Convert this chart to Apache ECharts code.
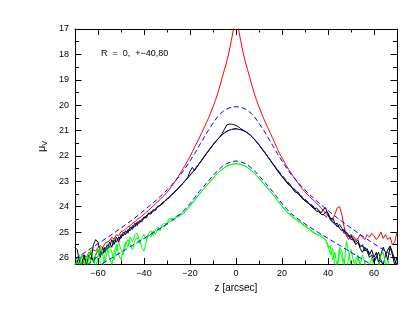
<!DOCTYPE html>
<html>
<head>
<meta charset="utf-8">
<script src="https://cdn.jsdelivr.net/npm/echarts@6/dist/echarts.min.js"></script>
<style>
html,body{margin:0;padding:0;background:#fff;}
#c{width:409px;height:316px;}
</style>
</head>
<body>
<div id="c"></div>
<script>
// sampling positions (arcsec)
const zData = [-70,-69,-68,-67,-66,-65,-64,-63,-62,-61,-60,-59,-58,-57,-56,-55,-54,-53,-52,-51,
-50,-49,-48,-47,-46,-45,-44,-43,-42,-41,-40,-39,-38,-37,-36,-35,-34,-33,-32,-31,
-30,-29,-28,-27,-26,-25,-24,-23,-22,-21,-20,-19,-18,-17,-16,-15,-14,-13,-12,-11,
-10,-9,-8,-7,-6,-5,-4,-3,-2,-1,0,1,2,3,4,5,6,7,8,9,10,11,12,13,14,15,16,17,18,19,20,
21,22,23,24,25,26,27,28,29,30,31,32,33,34,35,36,37,38,39,40,41,42,43,44,45,46,47,48,49,50,
51,52,53,54,55,56,57,58,59,60,61,62,63,64,65,66,67,68,69,70];
const zModel = [-70,-68,-66,-64,-62,-60,-58,-56,-54,-52,-50,-48,-46,-44,-42,-40,-38,-36,-34,-32,
-30,-28,-26,-24,-22,-20,-18,-16,-14,-12,-10,-8,-6,-4,-2,0,2,4,6,8,10,12,14,16,18,20,22,24,26,28,30,
32,34,36,38,40,42,44,46,48,50,52,54,56,58,60,62,64,66,68,70];

// observed profiles (mag/arcsec^2)
const redProfile = [26.1,26.0,26.15,25.95,25.9,26.0,25.8,25.85,25.7,25.75,
25.6,25.55,25.62,25.45,25.4,25.35,25.2,25.28,25.1,25.15,
24.98,24.95,24.88,24.8,24.75,24.65,24.6,24.5,24.45,24.38,
24.3,24.22,24.15,24.05,23.98,23.88,23.8,23.72,23.62,23.54,
23.44,23.32,23.2,23.07,22.94,22.8,22.65,22.5,22.35,22.18,
22.02,21.84,21.66,21.48,21.3,21.11,20.92,20.72,20.52,20.3,
20.07,19.82,19.55,19.25,18.9,18.6,18.27,17.9,17.45,16.95,
16.4,
16.95,17.45,17.9,18.27,18.6,18.92,19.25,19.55,19.82,20.07,
20.3,20.52,20.72,20.92,21.12,21.32,21.52,21.72,21.92,22.08,
22.24,22.4,22.55,22.68,22.82,22.95,23.08,23.2,23.32,23.42,
23.52,23.6,23.7,23.78,23.86,23.95,24.05,24.15,24.25,24.38,
24.45,24.5,24.3,24.05,24.0,24.3,24.8,25.15,25.3,25.2,
25.15,25.3,25.25,25.1,25.2,25.3,25.1,25.2,25.05,25.15,
25.3,25.2,25.0,25.25,25.1,25.3,25.2,25.5,25.4,25.0];

const black1 = [25.6,25.7,26.2,26.4,26.0,26.3,25.9,26.1,25.5,25.3,
25.4,25.8,25.9,25.6,25.7,25.4,25.6,25.3,25.4,25.2,
25.25,25.0,25.1,24.9,24.95,24.75,24.8,24.6,24.65,24.5,
24.48,24.35,24.3,24.2,24.2,24.08,24.02,23.93,23.9,23.78,
23.72,23.62,23.55,23.44,23.38,23.26,23.18,23.06,22.98,22.86,
22.62,22.45,22.58,22.44,22.31,22.19,22.06,21.93,21.81,21.69,
21.57,21.46,21.35,21.26,21.12,20.95,20.78,20.75,20.75,20.77,
20.8,
20.85,20.92,20.98,21.03,21.09,21.16,21.25,21.34,21.45,21.56,
21.68,21.8,21.93,22.06,22.19,22.32,22.45,22.58,22.7,22.82,
22.92,23.05,23.15,23.2,23.35,23.45,23.42,23.6,23.65,23.78,
23.8,23.92,23.95,24.1,24.05,24.15,24.25,24.1,24.05,24.3,
24.5,24.45,24.65,24.8,24.7,24.85,25.05,25.0,25.15,25.3,
25.25,25.5,25.4,25.65,25.8,25.6,25.75,26.0,25.9,26.2,
26.0,25.8,26.1,26.3,25.9,25.7,25.55,25.8,26.1,26.3];

const black2 = [26.4,26.1,26.5,26.2,25.9,26.3,26.0,25.8,26.2,25.9,
25.7,26.0,25.6,25.8,25.5,25.6,25.3,25.5,25.2,25.4,
25.1,25.15,24.95,25.05,24.8,24.9,24.65,24.75,24.55,24.6,
24.4,24.45,24.25,24.3,24.12,24.15,23.98,23.97,23.84,23.8,
23.68,23.64,23.52,23.46,23.35,23.27,23.15,23.08,22.96,22.88,
22.76,22.66,22.54,22.43,22.3,22.18,22.05,21.92,21.8,21.68,
21.56,21.45,21.34,21.25,21.16,21.09,21.03,20.99,20.96,20.94,
20.93,
20.95,20.97,21.0,21.04,21.1,21.17,21.26,21.35,21.46,21.57,
21.69,21.81,21.93,22.06,22.18,22.31,22.43,22.56,22.68,22.8,
22.93,23.0,23.12,23.22,23.3,23.41,23.5,23.58,23.7,23.75,
23.85,23.9,24.02,24.05,24.18,24.2,24.3,24.32,24.2,24.25,
24.45,24.6,24.7,24.65,24.85,24.95,24.9,25.1,25.2,25.1,
25.35,25.4,25.3,25.6,25.5,25.75,25.65,25.9,25.7,26.0,
25.8,26.2,25.9,25.6,25.8,26.1,25.6,25.9,26.3,26.0];

const green1 = [26.5,26.0,25.9,26.4,26.6,26.1,25.8,26.3,26.5,25.9,
25.7,26.2,26.4,25.9,25.6,26.0,26.3,25.8,25.5,25.9,
26.1,25.7,25.4,25.6,25.2,25.4,25.1,25.05,25.3,25.6,
25.75,25.4,25.1,25.2,24.95,25.1,24.85,24.9,24.75,24.8,
24.6,24.48,24.5,24.55,24.42,24.4,24.35,24.28,24.2,24.1,
23.99,23.88,23.76,23.64,23.52,23.41,23.31,23.2,23.1,22.99,
22.89,22.79,22.69,22.61,22.53,22.47,22.41,22.37,22.34,22.32,
22.31,
22.32,22.34,22.37,22.41,22.47,22.53,22.61,22.69,22.79,22.89,
22.99,23.1,23.2,23.31,23.41,23.52,23.64,23.76,23.88,23.99,
24.1,24.2,24.3,24.38,24.46,24.5,24.6,24.62,24.72,24.78,
24.85,24.9,25.0,25.05,25.1,25.1,25.2,25.22,25.3,25.5,
25.9,25.65,26.3,26.5,25.7,26.0,26.4,25.35,25.8,26.3,
26.5,26.1,25.9,26.4,26.6,26.2,26.5,26.8,26.3,26.6,
26.9,26.4,25.9,25.8,26.3,26.6,26.4,26.8,26.5,26.9];

const green2 = [26.2,26.6,26.3,25.9,26.2,26.5,26.0,25.7,26.1,26.4,
26.0,25.6,25.9,26.2,25.8,25.5,25.8,26.1,25.7,25.4,
25.7,25.9,25.5,25.3,25.5,25.7,25.35,25.2,25.45,25.25,
25.1,25.3,25.05,24.95,25.15,24.9,24.8,24.95,24.7,24.65,
24.72,24.55,24.45,24.5,24.38,24.32,24.3,24.22,24.14,24.05,
23.95,23.85,23.74,23.62,23.51,23.4,23.3,23.19,23.09,22.98,
22.88,22.78,22.68,22.6,22.52,22.46,22.4,22.36,22.33,22.31,
22.3,
22.31,22.33,22.36,22.4,22.46,22.52,22.6,22.68,22.78,22.88,
22.98,23.09,23.19,23.3,23.4,23.51,23.63,23.75,23.86,23.97,
24.08,24.17,24.27,24.33,24.42,24.47,24.55,24.6,24.68,24.75,
24.8,24.88,24.95,25.02,25.08,25.15,25.1,25.25,25.3,25.6,
25.55,26.1,25.8,26.4,25.6,25.75,26.2,26.5,26.0,25.7,
26.1,26.4,26.0,26.3,25.9,26.2,26.6,26.3,26.0,26.4,
26.7,26.2,26.5,26.8,26.4,26.1,26.5,26.8,26.4,26.7];

// model profiles (dashed)
const modelUpper = [26.06,25.94,25.82,25.7,25.58,25.46,25.34,25.22,25.1,24.97,
24.84,24.71,24.58,24.44,24.3,24.15,24.0,23.85,23.69,23.52,
23.34,23.15,22.95,22.73,22.48,22.2,21.91,21.6,21.29,20.99,
20.71,20.46,20.27,20.15,20.08,
20.06,
20.08,20.15,20.27,20.46,20.71,20.99,21.29,21.6,21.91,22.2,
22.48,22.73,22.95,23.15,23.34,23.52,23.69,23.85,24.0,24.15,
24.3,24.44,24.58,24.71,24.84,24.97,25.1,25.22,25.34,25.46,
25.58,25.7,25.82,25.94,26.06];

const modelMiddle = [26.7,26.55,26.4,26.25,26.1,25.95,25.8,25.65,25.5,25.35,
25.2,25.05,24.9,24.75,24.6,24.45,24.31,24.17,24.02,23.87,
23.71,23.54,23.36,23.17,22.97,22.76,22.54,22.3,22.05,21.8,
21.56,21.34,21.16,21.03,20.96,
20.93,
20.96,21.03,21.16,21.34,21.56,21.8,22.05,22.3,22.54,22.76,
22.97,23.17,23.36,23.54,23.71,23.87,24.02,24.17,24.31,24.45,
24.6,24.75,24.9,25.05,25.2,25.35,25.5,25.65,25.8,25.95,
26.1,26.25,26.4,26.55,26.7];

const modelLower = [26.9,26.79,26.68,26.57,26.46,26.35,26.24,26.13,26.02,25.91,
25.8,25.69,25.58,25.47,25.36,25.25,25.14,25.03,24.92,24.8,
24.68,24.55,24.42,24.28,24.09,23.88,23.65,23.41,23.2,22.99,
22.78,22.58,22.42,22.3,22.23,
22.2,
22.23,22.3,22.42,22.58,22.78,22.99,23.2,23.41,23.65,23.88,
24.09,24.28,24.42,24.55,24.68,24.8,24.92,25.03,25.14,25.25,
25.36,25.47,25.58,25.69,25.8,25.91,26.02,26.13,26.24,26.35,
26.46,26.57,26.68,26.79,26.9];

const annotation = 'R  =  0,  +\u221240,80';

function pairs(xs, ys){ return xs.map((x,i)=>[x, ys[i]]); }

const FONT = 'Liberation Sans, Arial, Helvetica, sans-serif';
const minusFmt = v => (v < 0 ? '\u2212' + (-v) : '' + v);

const chart = echarts.init(document.getElementById('c'), null, {renderer:'canvas'});

function lineSeries(name, xs, ys, color, dashed){
  return {
    name, type:'line', xAxisIndex:0, yAxisIndex:0,
    data: pairs(xs, ys), symbol:'none', showSymbol:false, clip:true,
    lineStyle:{color, width:1, type: dashed ? [5,3] : 'solid'},
    emphasis:{disabled:true}, silent:true, z: dashed ? 5 : 3
  };
}

const baseLine = {show:true, onZero:false, lineStyle:{color:'#000', width:1}};

chart.setOption({
  animation:false,
  backgroundColor:'#fff',
  grid:[
    {left:75, top:29, width:322, height:235},
    {left:98, top:29, width:276, height:235}
  ],
  xAxis:[
    {gridIndex:0, type:'value', position:'bottom', min:-70, max:70, interval:10,
     axisLine:baseLine, axisTick:{show:true, inside:true, length:3.5, lineStyle:{color:'#000'}},
     axisLabel:{show:false}, splitLine:{show:false},
     name:'z [arcsec]', nameLocation:'middle', nameGap:19,
     nameTextStyle:{color:'#000', fontSize:10, fontFamily:FONT}},
    {gridIndex:0, type:'value', position:'top', min:-70, max:70, interval:10,
     axisLine:baseLine, axisTick:{show:true, inside:true, length:3.5, lineStyle:{color:'#000'}},
     axisLabel:{show:false}, splitLine:{show:false}},
    {gridIndex:1, type:'value', position:'bottom', min:-60, max:60, interval:20,
     axisLine:{show:false, onZero:false}, axisTick:{show:true, inside:true, length:6, lineStyle:{color:'#000'}},
     axisLabel:{show:true, margin:5, color:'#000', fontSize:9, fontFamily:FONT, formatter:minusFmt},
     splitLine:{show:false}},
    {gridIndex:1, type:'value', position:'top', min:-60, max:60, interval:20,
     axisLine:{show:false, onZero:false}, axisTick:{show:true, inside:true, length:6, lineStyle:{color:'#000'}},
     axisLabel:{show:false}, splitLine:{show:false}}
  ],
  yAxis:[
    {gridIndex:0, type:'value', position:'left', inverse:true, min:17, max:26.26, interval:1,
     axisLine:baseLine, axisTick:{show:true, inside:true, length:6.5, lineStyle:{color:'#000'}},
     minorTick:{show:true, splitNumber:2, length:4, lineStyle:{color:'#000'}},
     axisLabel:{show:true, margin:6, color:'#000', fontSize:9, fontFamily:FONT,
       formatter: v => (Math.abs(v - Math.round(v)) < 1e-6 ? String(Math.round(v)) : '')},
     splitLine:{show:false}, minorSplitLine:{show:false},
     name:'{a|\u03bc}{b|V}', nameLocation:'middle', nameGap:25,
     nameTextStyle:{color:'#000', fontFamily:FONT,
       rich:{a:{fontSize:11, fontFamily:FONT, color:'#000'}, b:{fontSize:7, fontFamily:FONT, color:'#000', padding:[5,0,0,0]}}}},
    {gridIndex:0, type:'value', position:'right', inverse:true, min:17, max:26.26, interval:1,
     axisLine:baseLine, axisTick:{show:true, inside:true, length:6.5, lineStyle:{color:'#000'}},
     minorTick:{show:true, splitNumber:2, length:4, lineStyle:{color:'#000'}},
     axisLabel:{show:false}, splitLine:{show:false}, minorSplitLine:{show:false}},
    {gridIndex:1, type:'value', inverse:true, min:17, max:26.26, show:false}
  ],
  graphic:[
    {type:'text', left:101, top:49, silent:true,
     style:{text:annotation, fill:'#000', fontSize:9, fontFamily:FONT}}
  ],
  series:[
    lineSeries('red', zData, redProfile, '#ff0000', false),
    lineSeries('black1', zData, black1, '#000000', false),
    lineSeries('black2', zData, black2, '#000000', false),
    lineSeries('green1', zData, green1, '#00ff00', false),
    lineSeries('green2', zData, green2, '#00ff00', false),
    lineSeries('modelUpper', zModel, modelUpper, '#0000ff', true),
    lineSeries('modelMiddle', zModel, modelMiddle, '#0000ff', true),
    lineSeries('modelLower', zModel, modelLower, '#0000ff', true)
  ]
});
</script>
</body>
</html>
